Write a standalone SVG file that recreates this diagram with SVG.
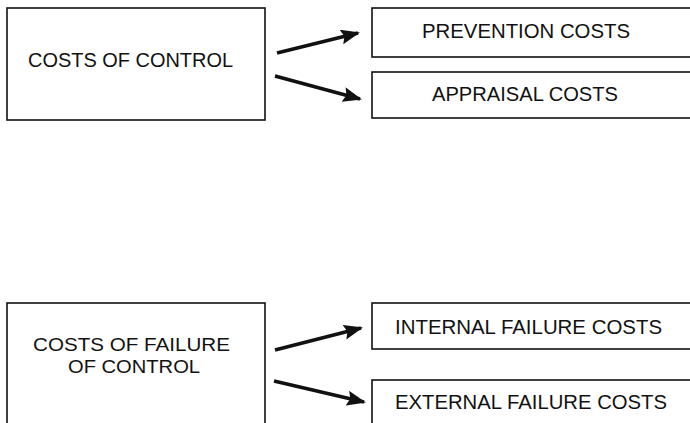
<svg xmlns="http://www.w3.org/2000/svg" width="690" height="423" viewBox="0 0 690 423">
  <style>
    .box { fill: #ffffff; stroke: #111111; stroke-width: 1.6; }
    .label { font-family: "Liberation Sans", Arial, sans-serif; font-size: 20.5px; fill: #111111; }
    .label.tight { font-size: 19px; }
    .arrow { stroke: #111111; stroke-width: 3.6; fill: none; marker-end: url(#head); }
  </style>
  <defs>
    <marker id="head" markerUnits="userSpaceOnUse" markerWidth="20" markerHeight="16" refX="17" refY="7.5" orient="auto">
      <path d="M0,0 L19,7.5 L0,15 L3,7.5 Z" fill="#111111"/>
    </marker>
  </defs>
  <rect width="690" height="423" fill="#ffffff"/>

  <!-- upper group: costs of control -->
  <g id="costs-of-control">
    <rect class="box" x="7" y="8" width="258" height="112"/>
    <text class="label" x="28" y="67" textLength="205" lengthAdjust="spacingAndGlyphs">COSTS OF CONTROL</text>
  </g>
  <g id="prevention-costs">
    <rect class="box" x="372" y="8" width="330" height="49"/>
    <text class="label" x="422" y="38" textLength="208" lengthAdjust="spacingAndGlyphs">PREVENTION COSTS</text>
  </g>
  <g id="appraisal-costs">
    <rect class="box" x="372" y="72" width="330" height="46"/>
    <text class="label" x="432" y="101" textLength="186" lengthAdjust="spacingAndGlyphs">APPRAISAL COSTS</text>
  </g>

  <!-- lower group: costs of failure of control -->
  <g id="costs-of-failure">
    <rect class="box" x="7" y="303" width="258" height="130"/>
    <text class="label tight" x="33" y="351" textLength="197" lengthAdjust="spacingAndGlyphs">COSTS OF FAILURE</text>
    <text class="label tight" x="68" y="372.5" textLength="132" lengthAdjust="spacingAndGlyphs">OF CONTROL</text>
  </g>
  <g id="internal-failure-costs">
    <rect class="box" x="372" y="303" width="330" height="46"/>
    <text class="label" x="395" y="334" textLength="267" lengthAdjust="spacingAndGlyphs">INTERNAL FAILURE COSTS</text>
  </g>
  <g id="external-failure-costs">
    <rect class="box" x="372" y="380" width="330" height="60"/>
    <text class="label" x="395" y="409" textLength="272" lengthAdjust="spacingAndGlyphs">EXTERNAL FAILURE COSTS</text>
  </g>

  <!-- connectors -->
  <g id="connectors">
    <line class="arrow" x1="277" y1="53" x2="358" y2="33"/>
    <line class="arrow" x1="275" y1="76" x2="360" y2="99"/>
    <line class="arrow" x1="275" y1="350" x2="361" y2="328"/>
    <line class="arrow" x1="274" y1="381" x2="364" y2="402"/>
  </g>
</svg>
